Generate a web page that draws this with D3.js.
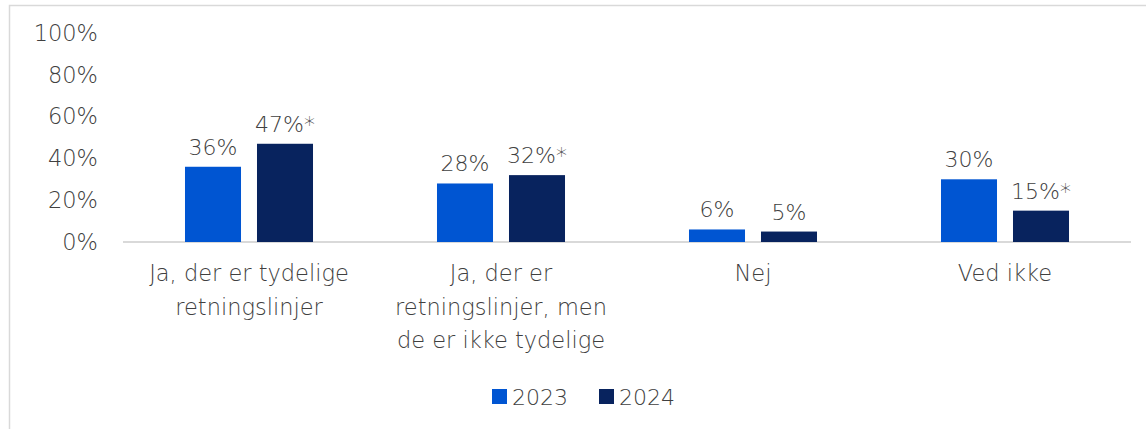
<!DOCTYPE html>
<html>
<head>
<meta charset="utf-8">
<script src="https://cdn.jsdelivr.net/npm/d3@7"></script>
<style>
  body { margin: 0; background: #fff; }
  svg text { font-family: "DejaVu Sans", sans-serif; fill: #404040; }
</style>
</head>
<body>
<svg id="chart" width="1146" height="429"></svg>
<script>
// data
const categories = [
    ["Ja, der er tydelige", "retningslinjer"],
    ["Ja, der er", "retningslinjer, men", "de er ikke tydelige"],
    ["Nej"],
    ["Ved ikke"]
]
const seriesNames = ["2023", "2024"]
const values2023 = [36, 28, 6, 30]
const values2024 = [47, 32, 5, 15]
const labels2023 = ["36%", "28%", "6%", "30%"]
const labels2024 = ["47%*", "32%*", "5%", "15%*"]
const yTicks = [0, 20, 40, 60, 80, 100]
const colors = ["#0055D2", "#08235E"]

const svg = d3.select("#chart")
const FONT = "DejaVu Sans, sans-serif"
const TEXT_COLOR = "#404040"

// outer frame
svg.append("rect")
    .attr("x", 9.5).attr("y", 5.5)
    .attr("width", 1150).attr("height", 440)
    .attr("fill", "none")
    .attr("stroke", "#d9d9d9")
    .attr("stroke-width", 1.5)

const plotLeft = 123, plotRight = 1131
const y = d3.scaleLinear().domain([0, 100]).range([242, 33])

const x0 = d3.scaleBand()
    .domain(d3.range(categories.length))
    .range([plotLeft, plotRight])
    .paddingInner(0.492)
    .paddingOuter(0.246)

const x1 = d3.scaleBand()
    .domain(seriesNames)
    .range([0, x0.bandwidth()])
    .paddingInner(0.222)

// y axis labels
const yAxis = d3.axisLeft(y)
    .tickValues(yTicks)
    .tickFormat(d => d + "%")
    .tickSize(0)
    .tickPadding(0)

const yG = svg.append("g")
    .attr("transform", "translate(98,0)")
    .call(yAxis)
yG.select(".domain").remove()
yG.selectAll("text")
    .attr("font-size", 22.5)
    .attr("font-family", FONT)
    .attr("font-weight", 200)
    .attr("fill", TEXT_COLOR)

// baseline
svg.append("line")
    .attr("x1", plotLeft).attr("x2", plotRight)
    .attr("y1", y(0)).attr("y2", y(0))
    .attr("stroke", "#d9d9d9")
    .attr("stroke-width", 2)

const rows = categories.map((c, i) => ({
    i: i,
    vals: [
        { s: "2023", v: values2023[i], label: labels2023[i], color: colors[0] },
        { s: "2024", v: values2024[i], label: labels2024[i], color: colors[1] }
    ]
}))

const groups = svg.selectAll(".grp")
    .data(rows)
    .enter()
    .append("g")
    .attr("class", "grp")
    .attr("transform", d => "translate(" + x0(d.i) + ",0)")

groups.selectAll("rect")
    .data(d => d.vals)
    .enter()
    .append("rect")
    .attr("x", d => x1(d.s))
    .attr("width", x1.bandwidth())
    .attr("y", d => y(d.v))
    .attr("height", d => y(0) - y(d.v))
    .attr("fill", d => d.color)

groups.selectAll(".val")
    .data(d => d.vals)
    .enter()
    .append("text")
    .attr("class", "val")
    .attr("x", d => x1(d.s) + x1.bandwidth() / 2)
    .attr("y", d => y(d.v) - 12)
    .attr("text-anchor", "middle")
    .attr("font-size", 22)
    .attr("font-weight", 200)
    .text(d => d.label)

// category labels
const catG = svg.selectAll(".cat")
    .data(categories)
    .enter()
    .append("text")
    .attr("class", "cat")
    .attr("text-anchor", "middle")
    .attr("font-size", 22.5)
    .attr("font-weight", 200)

catG.selectAll("tspan")
    .data((d, i) => d.map(line => ({ line: line, i: i })))
    .enter()
    .append("tspan")
    .attr("x", d => x0(d.i) + x0.bandwidth() / 2)
    .attr("y", (d, j) => 281 + j * 33.5)
    .text(d => d.line)

// legend
const legendX = [492, 599]
const legend = svg.selectAll(".leg")
    .data(seriesNames)
    .enter()
    .append("g")
    .attr("class", "leg")
    .attr("transform", (d, i) => "translate(" + legendX[i] + ",389)")

legend.append("rect")
    .attr("width", 15).attr("height", 15)
    .attr("fill", (d, i) => colors[i])

legend.append("text")
    .attr("x", 20)
    .attr("y", 16)
    .attr("font-size", 22)
    .attr("font-weight", 200)
    .text(d => d)
</script>
</body>
</html>
